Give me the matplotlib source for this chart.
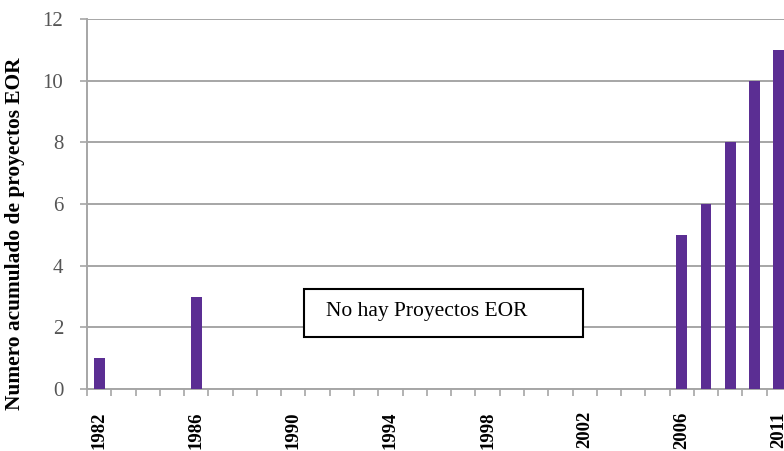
import matplotlib
matplotlib.use("Agg")
import matplotlib.pyplot as plt
from matplotlib.patches import Rectangle

# Data
years = list(range(1982, 2007)) + [2008, 2009, 2010, 2011]
values = [1, 0, 0, 0, 3] + [0] * 19 + [5, 6, 8, 10, 11]
label_every = 4
y_ticks = [0, 2, 4, 6, 8, 10, 12]
ylabel = "Numero acumulado de proyectos EOR"
note = "No hay Proyectos EOR"

plt.rcParams['font.family'] = ['Liberation Serif', 'DejaVu Serif']

fig = plt.figure(figsize=(7.84, 4.51), dpi=100)
ax = fig.add_axes([87/784, 1 - 389/451, 704/784, 370/451])

x = list(range(len(years)))
ax.bar(x, values, width=0.45, color='#5b2e93', zorder=3)

ax.set_xlim(-0.5, len(years) - 0.5)
ax.set_ylim(0, 12)
ax.set_yticks(y_ticks)
ax.set_yticklabels([str(v) for v in y_ticks], fontsize=15, color='#555555')
ax.yaxis.grid(True, color='#a6a6a6', linewidth=1.4, zorder=0)
ax.set_axisbelow(True)

# category boundary ticks
ax.set_xticks([i - 0.5 for i in range(len(years))])
ax.set_xticklabels([])
ax.set_xticks([i for i in range(0, len(years), label_every)], minor=True)
ax.set_xticklabels([str(years[i]) for i in range(0, len(years), label_every)],
                   minor=True, rotation=90, fontsize=13.5, fontweight='bold', va='top')
ax.tick_params(axis='x', which='minor', length=0, pad=16)
ax.tick_params(axis='x', which='major', length=5, color='#a6a6a6', width=1.2)
ax.tick_params(axis='y', length=5, color='#a6a6a6', width=1.2, pad=12)

for s in ['top', 'right']:
    ax.spines[s].set_visible(False)
for s in ['left', 'bottom']:
    ax.spines[s].set_color('#a6a6a6')
    ax.spines[s].set_linewidth(1.4)

ax.set_ylabel(ylabel, fontsize=15.4, fontweight='bold')
ax.yaxis.set_label_coords(-0.088, 0.42)

ax.add_patch(Rectangle((0.308, 0.141), 0.396, 0.1285, transform=ax.transAxes,
                       facecolor='white', edgecolor='black', linewidth=1.5, zorder=5))
ax.text(0.340, 0.209, note, transform=ax.transAxes, fontsize=15.5,
        va='center', ha='left', zorder=6)

fig.savefig('out.png', dpi=100)
